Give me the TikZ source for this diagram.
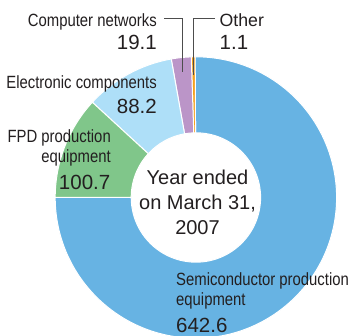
\documentclass[tikz,border=0pt]{standalone}
\usepackage{fontspec}
\setmainfont{Liberation Sans}
\newfontfamily\condfont[FakeStretch=0.84]{Liberation Sans}
\usetikzlibrary{calc}
\definecolor{semic}{HTML}{67B3E3}
\definecolor{fpdc}{HTML}{80C68A}
\definecolor{elc}{HTML}{AEDFF8}
\definecolor{cnc}{HTML}{BB95C8}
\definecolor{otc}{HTML}{F4A11E}
\definecolor{txt}{HTML}{231F20}
\definecolor{leadc}{HTML}{4D4D4D}
\newcommand{\donutseg}[3]{%
  \filldraw[sector, fill=#3] ($(c)+(#1:140.7)$) arc[start angle=#1, end angle=#2, radius=140.7]
    -- ($(c)+(#2:64.7)$) arc[start angle=#2, end angle=#1, radius=64.7] -- cycle;}
\begin{document}
\begin{tikzpicture}[x=1pt,y=1pt,
  lab/.style={inner sep=0pt, font=\condfont\fontsize{17.7}{20}\selectfont, text=txt},
  labw/.style={inner sep=0pt, font=\fontsize{17.7}{20}\selectfont, text=txt},
  num/.style={inner sep=0pt, font=\fontsize{20.5}{24}\selectfont, text=txt},
  ctr/.style={inner sep=0pt, font=\fontsize{20}{25}\selectfont, text=txt},
  leader/.style={draw=leadc, line width=1pt},
  sector/.style={draw=white, line width=1pt}]
\useasboundingbox[fill=white] (0,0) rectangle (349,336);
\coordinate (c) at (195.9,138.5);
% sectors
\donutseg{180}{450.3}{semic}
\donutseg{90.3}{91.9}{otc}
\donutseg{91.9}{100.1}{cnc}
\donutseg{100.1}{137.4}{elc}
\donutseg{137.4}{180}{fpdc}
% labels
\node[lab, anchor=base east] (cn) at (157,309.5) {Computer networks};
\node[num, anchor=base east] (cnv) at (157,286) {19.1};
\node[labw, anchor=base west] (ot) at (219.5,309.5) {Other};
\node[num, anchor=base west] (otv) at (219.5,286) {1.1};
\node[lab, anchor=base east] (el) at (157,247) {Electronic components};
\node[num, anchor=base east] (elv) at (157,222.5) {88.2};
\node[lab, anchor=base east] (fp1) at (111,193.5) {FPD production};
\node[lab, anchor=base east] (fp2) at (111,173.5) {equipment};
\node[num, anchor=base east] (fpv) at (110.5,146) {100.7};
\node[ctr, anchor=base] (ce1) at (197.5,151) {Year ended};
\node[ctr, anchor=base] (ce2) at (197.5,126) {on March 31,};
\node[ctr, anchor=base] (ce3) at (197.5,101) {2007};
\node[lab, anchor=base west] (se1) at (176,50) {Semiconductor production};
\node[lab, anchor=base west] (se2) at (176,30) {equipment};
\node[num, anchor=base west] (sev) at (176,3) {642.6};
% leaders
\coordinate (cnA) at (164.3,317);
\coordinate (cnB) at (182.7,264.3);
\draw[leader] (cnA) -| (cnB);
\coordinate (otA) at (215,317);
\coordinate (otB) at (193.3,261);
\draw[leader] (otA) -| (otB);
\end{tikzpicture}
\end{document}
